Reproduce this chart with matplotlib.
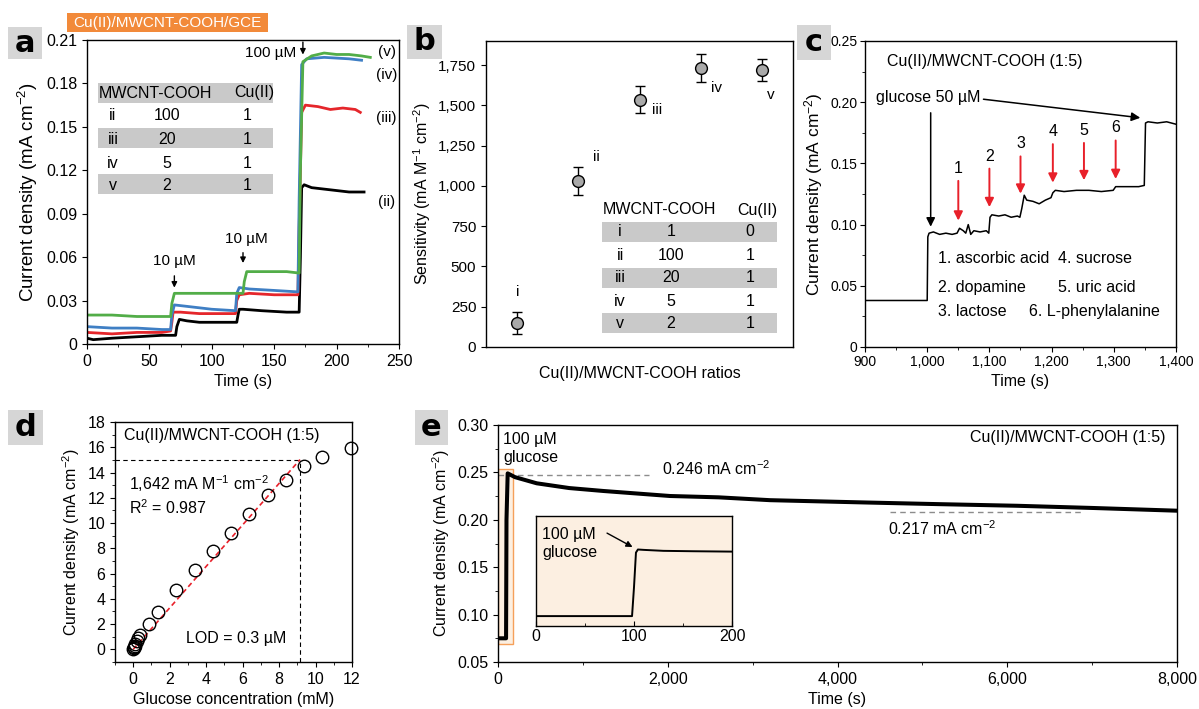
import matplotlib
matplotlib.use('Agg')
import matplotlib.pyplot as plt
import numpy as np
from matplotlib.patches import Rectangle
from matplotlib.ticker import FuncFormatter, MultipleLocator

plt.rcParams['font.family'] = ['Liberation Sans', 'DejaVu Sans']
plt.rcParams['mathtext.fontset'] = 'custom'
plt.rcParams['mathtext.rm'] = 'Liberation Sans'
plt.rcParams['mathtext.it'] = 'Liberation Sans:italic'
plt.rcParams['mathtext.default'] = 'regular'
plt.rcParams['axes.linewidth'] = 1.0
plt.rcParams['xtick.direction'] = 'out'
plt.rcParams['ytick.direction'] = 'out'

# ---------------- data ----------------
# panel a: amperometric traces
a_t_ii = [0, 5, 20, 40, 60, 71, 72, 74, 80, 90, 100, 110, 120, 121, 122, 125, 140, 160, 170, 171, 172, 174, 180, 190, 200, 210, 222]
a_y_ii = [0.004, 0.003, 0.004, 0.005, 0.006, 0.006, 0.012, 0.017, 0.016, 0.015, 0.015, 0.015, 0.015, 0.020, 0.024, 0.024, 0.023, 0.022, 0.022, 0.060, 0.108, 0.110, 0.108, 0.107, 0.106, 0.105, 0.105]
a_t_iii = [0, 20, 40, 60, 67, 68, 69, 75, 90, 110, 119, 120, 122, 130, 150, 169, 170, 172, 175, 185, 195, 205, 215, 219]
a_y_iii = [0.008, 0.007, 0.008, 0.008, 0.009, 0.015, 0.022, 0.022, 0.021, 0.021, 0.021, 0.030, 0.034, 0.035, 0.034, 0.034, 0.080, 0.160, 0.165, 0.164, 0.162, 0.163, 0.162, 0.160]
a_t_iv = [0, 20, 40, 60, 67, 68, 70, 80, 100, 119, 120, 122, 130, 150, 169, 170, 172, 176, 190, 210, 220]
a_y_iv = [0.012, 0.011, 0.011, 0.010, 0.010, 0.020, 0.027, 0.026, 0.024, 0.023, 0.035, 0.039, 0.038, 0.037, 0.036, 0.100, 0.193, 0.197, 0.198, 0.197, 0.196]
a_t_v = [0, 20, 40, 60, 67, 68, 70, 90, 110, 125, 126, 128, 140, 160, 170, 171, 173, 180, 190, 200, 210, 220, 227]
a_y_v = [0.020, 0.020, 0.019, 0.019, 0.019, 0.028, 0.035, 0.035, 0.035, 0.035, 0.043, 0.050, 0.050, 0.050, 0.049, 0.120, 0.195, 0.199, 0.201, 0.200, 0.200, 0.199, 0.198]
a_table_rows = ['ii', 'iii', 'iv', 'v']
a_table_mw = ['100', '20', '5', '2']
a_table_cu = ['1', '1', '1', '1']

# panel b: sensitivity
b_labels = ['i', 'ii', 'iii', 'iv', 'v']
b_sens = [150, 1030, 1535, 1732, 1720]
b_err = [68, 85, 85, 85, 68]
b_table_mw = ['1', '100', '20', '5', '2']
b_table_cu = ['0', '1', '1', '1', '1']

# panel c: interference test
c_t = [900, 1000, 1001, 1003, 1010, 1020, 1030, 1040, 1048, 1052, 1058, 1062, 1066, 1070, 1075, 1085, 1095, 1099, 1101, 1104, 1115,
       1125, 1135, 1145, 1149, 1152, 1156, 1160, 1170, 1180, 1190, 1199, 1202, 1206, 1220, 1240, 1260, 1280, 1299, 1303, 1320,
       1340, 1349, 1351, 1355, 1370, 1385, 1400]
c_y = [0.038, 0.038, 0.090, 0.093, 0.094, 0.092, 0.093, 0.092, 0.093, 0.097, 0.095, 0.093, 0.100, 0.092, 0.095, 0.094, 0.095,
       0.093, 0.106, 0.108, 0.107, 0.108, 0.106, 0.107, 0.106, 0.113, 0.124, 0.120, 0.119, 0.117, 0.120, 0.122, 0.126, 0.128,
       0.127, 0.128, 0.128, 0.127, 0.128, 0.131, 0.131, 0.131, 0.132, 0.183, 0.184, 0.183, 0.184, 0.182]
c_inter_t = [1050, 1100, 1150, 1202, 1252, 1303]
c_inter_top = [0.138, 0.148, 0.158, 0.168, 0.169, 0.171]
c_inter_tip = [0.101, 0.112, 0.123, 0.132, 0.134, 0.135]
c_inter_lbl = ['1', '2', '3', '4', '5', '6']

# panel d: calibration
d_conc = [0.01, 0.03, 0.05, 0.08, 0.12, 0.18, 0.25, 0.37, 0.84, 1.36, 2.37, 3.38, 4.37, 5.36, 6.37, 7.38, 8.39, 9.39, 10.37, 11.96]
d_curr = [0.02, 0.08, 0.18, 0.30, 0.45, 0.65, 0.90, 1.14, 1.99, 2.95, 4.70, 6.26, 7.75, 9.24, 10.7, 12.2, 13.4, 14.55, 15.2, 15.95]
d_slope = 1.642
d_lin_max = 9.15
d_guide_y = 15.0

# panel e: stability
e_t = [0, 95, 100, 114, 200, 456, 838, 1241, 2027, 2598, 3205, 4360, 5200, 6115, 7000, 8000]
e_y = [0.075, 0.075, 0.200, 0.249, 0.245, 0.2385, 0.2335, 0.2304, 0.2251, 0.2237, 0.2207, 0.2182, 0.2165, 0.2148, 0.2125, 0.2096]
e_in_t = [0, 98, 100, 102, 104, 110, 130, 160, 200]
e_in_y = [0.075, 0.075, 0.150, 0.240, 0.248, 0.247, 0.2445, 0.2435, 0.2425]

# ---------------- figure ----------------
W, H = 1199, 709
fig = plt.figure(figsize=(W / 100, H / 100), dpi=100)


def add_ax(l, t, r, b, **kw):
    return fig.add_axes([l / W, 1 - b / H, (r - l) / W, (b - t) / H], **kw)


def panel_letter(x0, y0, x1, y1, letter):
    fig.patches.append(Rectangle((x0 / W, 1 - y1 / H), (x1 - x0) / W, (y1 - y0) / H,
                                 transform=fig.transFigure, facecolor='#d6d6d6', edgecolor='none', zorder=0))
    fig.text((x0 + x1) / 2 / W, 1 - (y0 + y1) / 2 / H, letter, fontsize=22, fontweight='bold',
             ha='center', va='center', family='DejaVu Sans')


def fmt_dec(n):
    return FuncFormatter(lambda v, p: '0' if abs(v) < 1e-12 else f'{v:.{n}f}')


comma = FuncFormatter(lambda v, p: f'{v:,.0f}')
RED = '#e8202a'

# ===== panel a =====
ax = add_ax(87, 40, 399, 344)
ax.plot(a_t_ii, a_y_ii, color='black', lw=2.0)
ax.plot(a_t_iii, a_y_iii, color='#e5262b', lw=2.0)
ax.plot(a_t_iv, a_y_iv, color='#3f7fc4', lw=2.0)
ax.plot(a_t_v, a_y_v, color='#52ad48', lw=2.0)
ax.set_xlim(0, 250)
ax.set_ylim(0, 0.21)
ax.set_xticks(np.arange(0, 251, 50))
ax.xaxis.set_minor_locator(MultipleLocator(25))
ax.set_yticks(np.arange(0, 0.2101, 0.03))
ax.yaxis.set_major_formatter(fmt_dec(2))
ax.tick_params(labelsize=11.5)
ax.set_xlabel('Time (s)', fontsize=11.5)
ax.set_ylabel('Current density (mA cm$^{-2}$)', fontsize=13.5, labelpad=4)
for lbl, yy in zip(['(v)', '(iv)', '(iii)', '(ii)'], [0.202, 0.186, 0.156, 0.098]):
    ax.text(240, yy, lbl, fontsize=11, ha='center', va='center')
ax.annotate('', xy=(70, 0.037), xytext=(70, 0.049),
            arrowprops=dict(arrowstyle='-|>', color='k', lw=1, mutation_scale=8))
ax.text(70, 0.057, '10 µM', fontsize=11, ha='center', va='center')
ax.annotate('', xy=(125, 0.054), xytext=(125, 0.065),
            arrowprops=dict(arrowstyle='-|>', color='k', lw=1, mutation_scale=8))
ax.text(128, 0.0725, '10 µM', fontsize=11, ha='center', va='center')
ax.annotate('', xy=(173, 0.198), xytext=(173, 0.2105),
            arrowprops=dict(arrowstyle='-|>', color='k', lw=1, mutation_scale=8), annotation_clip=False)
ax.text(168, 0.201, '100 µM', fontsize=11, ha='right', va='center')
# table a (axes fraction)
def fx_a(px): return (px - 87) / 312
def fy_a(py): return (344 - py) / 304
for (y0, y1) in [(83, 103), (128, 148), (174, 194)]:
    ax.add_patch(Rectangle((fx_a(98), fy_a(y1)), fx_a(273) - fx_a(98), fy_a(y0) - fy_a(y1),
                           transform=ax.transAxes, facecolor='#c9c9c9', edgecolor='none', zorder=0.5))
ax.text(fx_a(155), fy_a(93), 'MWCNT-COOH', transform=ax.transAxes, fontsize=11.5, ha='center', va='center')
ax.text(fx_a(254), fy_a(93), 'Cu(II)', transform=ax.transAxes, fontsize=11.5, ha='center', va='center')
for i, (r, m, c) in enumerate(zip(a_table_rows, a_table_mw, a_table_cu)):
    yy = fy_a([115.7, 139, 163, 185.7][i])
    ax.text(fx_a(113), yy, r, transform=ax.transAxes, fontsize=11.5, ha='center', va='center')
    ax.text(fx_a(167), yy, m, transform=ax.transAxes, fontsize=11.5, ha='center', va='center')
    ax.text(fx_a(247), yy, c, transform=ax.transAxes, fontsize=11.5, ha='center', va='center')

panel_letter(8, 27, 42, 59, 'a')
fig.patches.append(Rectangle((67 / W, 1 - 32 / H), 201 / W, 19 / H, transform=fig.transFigure,
                             facecolor='#f28a3a', edgecolor='none'))
fig.text(167.5 / W, 1 - 22.5 / H, 'Cu(II)/MWCNT-COOH/GCE', color='white', fontsize=11, ha='center', va='center')

# ===== panel b =====
ax = add_ax(486, 41, 793, 347)
bx = np.arange(1, len(b_sens) + 1)
ax.errorbar(bx, b_sens, yerr=b_err, fmt='o', mfc='#a9a9a9', mec='black', ms=8.5, mew=1,
            ecolor='black', elinewidth=1, capsize=3.5, capthick=1)
ax.set_xlim(0.5, 5.5)
ax.set_ylim(0, 1900)
ax.set_xticks([])
ax.set_yticks(np.arange(0, 1751, 250))
ax.yaxis.set_major_formatter(comma)
ax.tick_params(labelsize=11)
ax.set_xlabel('Cu(II)/MWCNT-COOH ratios', fontsize=11.5, labelpad=14)
ax.set_ylabel('Sensitivity (mA M$^{-1}$ cm$^{-2}$)', fontsize=11.5, labelpad=4)
for lbl, xx, yy in zip(b_labels, [1.02, 2.3, 3.29, 4.25, 5.13], [341, 1179, 1470, 1607, 1563]):
    ax.text(xx, yy, lbl, fontsize=11, ha='center', va='center')
def fx_b(px): return (px - 486) / 307
def fy_b(py): return (347 - py) / 306
for (y0, y1) in [(222, 242), (268, 288), (313, 333)]:
    ax.add_patch(Rectangle((fx_b(602), fy_b(y1)), fx_b(777) - fx_b(602), fy_b(y0) - fy_b(y1),
                           transform=ax.transAxes, facecolor='#c9c9c9', edgecolor='none', zorder=0.5))
ax.text(fx_b(659), fy_b(210), 'MWCNT-COOH', transform=ax.transAxes, fontsize=11.5, ha='center', va='center')
ax.text(fx_b(757), fy_b(210), 'Cu(II)', transform=ax.transAxes, fontsize=11.5, ha='center', va='center')
for i, (r, m, c) in enumerate(zip(b_labels, b_table_mw, b_table_cu)):
    yy = fy_b([232, 256, 278, 302, 324][i])
    ax.text(fx_b(620), yy, r, transform=ax.transAxes, fontsize=11.5, ha='center', va='center')
    ax.text(fx_b(671), yy, m, transform=ax.transAxes, fontsize=11.5, ha='center', va='center')
    ax.text(fx_b(750), yy, c, transform=ax.transAxes, fontsize=11.5, ha='center', va='center')
panel_letter(407, 25, 442, 59, 'b')

# ===== panel c =====
ax = add_ax(865, 41, 1176, 347)
ax.plot(c_t, c_y, color='black', lw=1.1)
ax.set_xlim(900, 1400)
ax.set_ylim(0, 0.25)
ax.set_xticks(np.arange(900, 1401, 100))
ax.xaxis.set_minor_locator(MultipleLocator(50))
ax.xaxis.set_major_formatter(comma)
ax.set_yticks(np.arange(0, 0.2501, 0.05))
ax.yaxis.set_minor_locator(MultipleLocator(0.025))
ax.yaxis.set_major_formatter(fmt_dec(2))
ax.tick_params(labelsize=10, pad=2)
ax.set_xlabel('Time (s)', fontsize=11.5)
ax.set_ylabel('Current density (mA cm$^{-2}$)', fontsize=12.5, labelpad=4)
ax.text(935, 0.233, 'Cu(II)/MWCNT-COOH (1:5)', fontsize=11.5, ha='left', va='center')
ax.text(918, 0.204, 'glucose 50 µM', fontsize=11.5, ha='left', va='center')
ax.annotate('', xy=(1005.6, 0.096), xytext=(1005.6, 0.1936),
            arrowprops=dict(arrowstyle='-|>', color='black', lw=1.1, mutation_scale=13))
ax.annotate('', xy=(1347, 0.187), xytext=(1086, 0.2027),
            arrowprops=dict(arrowstyle='-|>', color='black', lw=1.1, mutation_scale=13))
for xx, yt, yb, lb in zip(c_inter_t, c_inter_top, c_inter_tip, c_inter_lbl):
    ax.annotate('', xy=(xx, yb), xytext=(xx, yt),
                arrowprops=dict(arrowstyle='-|>', color=RED, lw=1.4, mutation_scale=13))
    ax.text(xx, yt + 0.008, lb, fontsize=11.5, ha='center', va='center')
ax.text(1017, 0.072, '1. ascorbic acid', fontsize=11.5, ha='left', va='center')
ax.text(1017, 0.049, '2. dopamine', fontsize=11.5, ha='left', va='center')
ax.text(1017, 0.029, '3. lactose', fontsize=11.5, ha='left', va='center')
ax.text(1210, 0.072, '4. sucrose', fontsize=11.5, ha='left', va='center')
ax.text(1210, 0.049, '5. uric acid', fontsize=11.5, ha='left', va='center')
ax.text(1164, 0.029, '6. L-phenylalanine', fontsize=11.5, ha='left', va='center')
panel_letter(797, 25, 831, 60, 'c')

# ===== panel d =====
ax = add_ax(115, 422, 352, 662)
ax.plot([-1, d_lin_max], [d_guide_y, d_guide_y], color='black', lw=0.8, ls=(0, (4, 3)))
ax.plot([d_lin_max, d_lin_max], [-1, d_guide_y], color='black', lw=0.8, ls=(0, (4, 3)))
ax.plot([0, d_lin_max], [0, d_slope * d_lin_max], color=RED, lw=1.2, ls=(0, (3, 2)))
ax.plot(d_conc, d_curr, 'o', mfc='none', mec='black', ms=9, mew=1, clip_on=False)
ax.set_xlim(-1, 12)
ax.set_ylim(-1, 18)
ax.set_xticks(np.arange(0, 13, 2))
ax.xaxis.set_minor_locator(MultipleLocator(1))
ax.set_yticks(np.arange(0, 19, 2))
ax.yaxis.set_minor_locator(MultipleLocator(1))
ax.tick_params(labelsize=11.5)
ax.set_xlabel('Glucose concentration (mM)', fontsize=11.5)
ax.set_ylabel('Current density (mA cm$^{-2}$)', fontsize=11.5, labelpad=4)
ax.text(-0.48, 16.9, 'Cu(II)/MWCNT-COOH (1:5)', fontsize=11.5, ha='left', va='center')
ax.text(-0.24, 13.1, '1,642 mA M$^{-1}$ cm$^{-2}$', fontsize=11.5, ha='left', va='center')
ax.text(-0.24, 11.2, 'R$^{2}$ = 0.987', fontsize=11.5, ha='left', va='center')
ax.text(2.88, 0.9, 'LOD = 0.3 µM', fontsize=11.5, ha='left', va='center')
panel_letter(8, 410, 43, 445, 'd')

# ===== panel e =====
ax = add_ax(498, 425, 1177, 662)
ax.add_patch(Rectangle((0, 0.0687), 173, 0.1846, facecolor='#fcefe1', edgecolor='#f5a05a', lw=1, zorder=0.5))
ax.plot([0, 1780], [0.2475, 0.2475], color='#8c8c8c', lw=1, ls=(0, (4, 3)))
ax.plot([4620, 6880], [0.2086, 0.2086], color='#8c8c8c', lw=1, ls=(0, (4, 3)))
ax.plot(e_t, e_y, color='black', lw=2.9, zorder=3)
ax.set_xlim(0, 8000)
ax.set_ylim(0.05, 0.30)
ax.set_xticks(np.arange(0, 8001, 2000))
ax.xaxis.set_minor_locator(MultipleLocator(1000))
ax.xaxis.set_major_formatter(comma)
ax.set_yticks(np.arange(0.05, 0.3001, 0.05))
ax.yaxis.set_minor_locator(MultipleLocator(0.025))
ax.yaxis.set_major_formatter(FuncFormatter(lambda v, p: f'{v:.2f}'))
ax.tick_params(labelsize=11.5)
ax.set_xlabel('Time (s)', fontsize=11.5)
ax.set_ylabel('Current density (mA cm$^{-2}$)', fontsize=11.5, labelpad=4)
ax.text(59, 0.2926, '100 µM\nglucose', fontsize=11.5, ha='left', va='top', linespacing=1.25)
ax.text(1936, 0.2543, '0.246 mA cm$^{-2}$', fontsize=11.5, ha='left', va='center')
ax.text(4595, 0.191, '0.217 mA cm$^{-2}$', fontsize=11.5, ha='left', va='center')
ax.text(7860, 0.287, 'Cu(II)/MWCNT-COOH (1:5)', fontsize=11.5, ha='right', va='center')
panel_letter(415, 410, 448, 445, 'e')

# inset
ai = add_ax(536, 516, 732, 626)
ai.set_facecolor('#fcefe1')
ai.plot(e_in_t, e_in_y, color='black', lw=1.4)
ai.set_xlim(0, 200)
ai.set_ylim(0.0493, 0.335)
ai.set_yticks([])
ai.set_xticks([0, 100, 200])
ai.xaxis.set_minor_locator(MultipleLocator(50))
ai.tick_params(axis='x', which='both', direction='in', labelsize=11.5, pad=2)
ai.text(6, 0.307, '100 µM\nglucose', fontsize=11.5, ha='left', va='top', linespacing=1.25)
ai.annotate('', xy=(101, 0.251), xytext=(70, 0.294),
            arrowprops=dict(arrowstyle='-|>', color='black', lw=1, mutation_scale=9))

fig.savefig('out.png', dpi=100)
